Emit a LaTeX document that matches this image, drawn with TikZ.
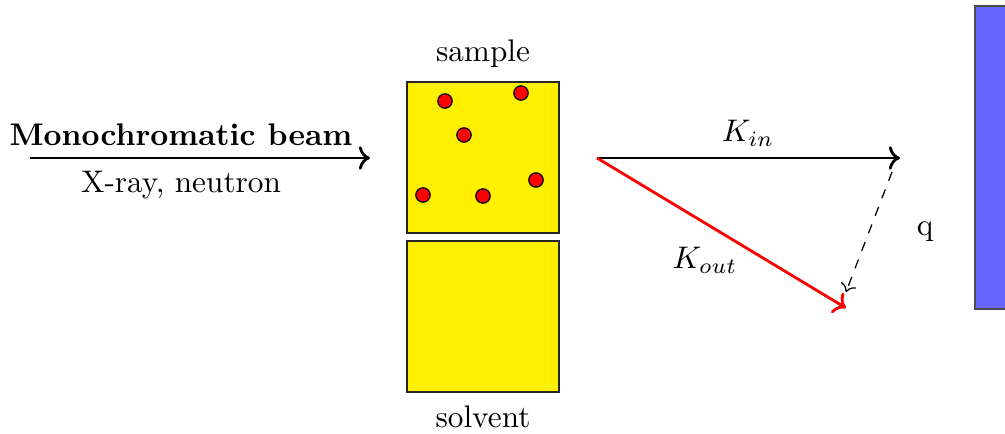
\documentclass[tikz,border=0pt]{standalone}
\usetikzlibrary{arrows.meta}
\definecolor{boxyellow}{RGB}{255,240,0}
\definecolor{detblue}{RGB}{102,102,255}
\begin{document}
\begin{tikzpicture}[x=0.32pt,y=-0.32pt,
  particle/.style={circle,draw=black,fill=red,inner sep=0pt,minimum size=4.6pt},
  cell/.style={draw=black!85,fill=boxyellow},
  lbl/.style={inner sep=0pt},
  beam/.style={line width=0.9pt,->}]
\useasboundingbox (0,0) rectangle (1005,434);
% beam
\coordinate (b0) at (30,158);
\coordinate (b1) at (370,158);
\draw[beam] (b0) -- (b1);
\node[lbl] (mono) at (181,135) {\textbf{Monochromatic beam}};
\node[lbl] (xray) at (181,185) {X-ray, neutron};
% cells
\draw[cell] (407,82) rectangle (559,233);
\draw[cell] (407,241) rectangle (559,392);
\node[lbl] (sample) at (483,54) {sample};
\node[lbl] (solvent) at (483,417) {solvent};
\node[particle] (p1) at (445,101) {};
\node[particle] (p2) at (521,93) {};
\node[particle] (p3) at (464,135) {};
\node[particle] (p4) at (423,195) {};
\node[particle] (p5) at (483,196) {};
\node[particle] (p6) at (536,180) {};
% scattering vectors
\coordinate (o) at (597,158);
\coordinate (kin) at (900,158);
\coordinate (kout) at (846,308);
\coordinate (q0) at (892,172);
\coordinate (q1) at (846,292);
\draw[beam] (o) -- (kin);
\draw[beam,red] (o) -- (kout);
\draw[dashed,->] (q0) -- (q1);
\node[lbl] (kinl) at (748,133) {$K_{in}$};
\node[lbl] (koutl) at (705,260) {$K_{out}$};
\node[lbl] (ql) at (925,232) {q};
% detector
\draw[draw=black!70,fill=detblue] (975,6) rectangle (1040,309);
\end{tikzpicture}
\end{document}
